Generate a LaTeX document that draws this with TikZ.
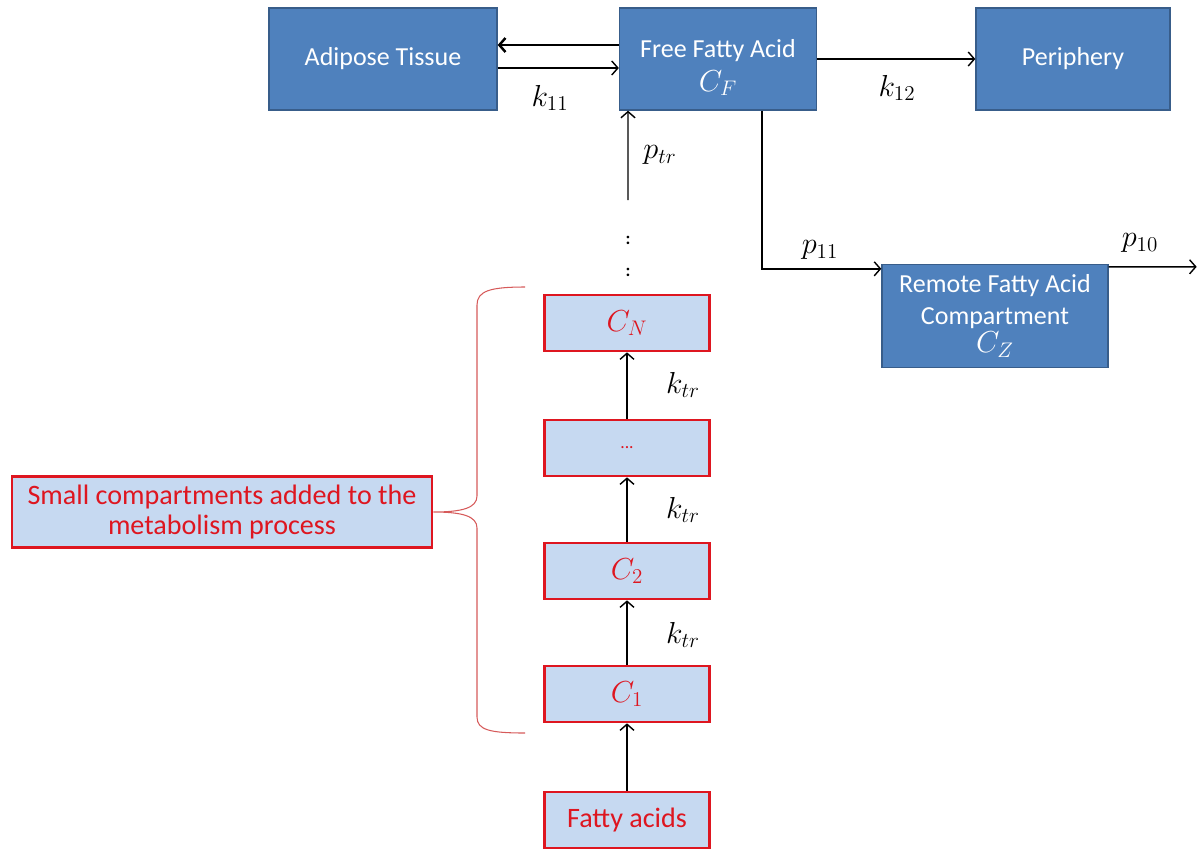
\documentclass[tikz,border=0pt]{standalone}
\usepackage{amsmath}
\usepackage{fontspec}
\setmainfont{Carlito}
\usetikzlibrary{calc,arrows.meta}
\definecolor{boxblue}{RGB}{79,129,189}
\definecolor{boxedge}{RGB}{56,93,138}
\definecolor{paleblue}{RGB}{198,217,241}
\definecolor{boxred}{RGB}{222,22,32}
\definecolor{bracered}{RGB}{214,90,90}
\newcommand{\symsize}{\fontsize{18}{20}\selectfont}
\tikzset{%
  >={Straight Barb[length=3.5pt,width=8pt]},
  bluebox/.style={draw=boxedge,fill=boxblue,text=white,line width=0.8pt,minimum height=2.04cm,align=center,font=\fontsize{14.8}{22}\selectfont},
  redbox/.style={draw=boxred,fill=paleblue,text=boxred,line width=1.5pt,minimum width=3.3cm,minimum height=1.12cm,align=center,font=\fontsize{16}{18}\selectfont},
  flow/.style={->,line width=0.8pt},
  rate/.style={font=\symsize}
}

\begin{document}
\begin{tikzpicture}[x=0.02cm,y=-0.02cm]
      \useasboundingbox (0,0) rectangle (1198,850);
      % top row
      \node[bluebox,minimum width=4.56cm](adi) at (383,59) {Adipose Tissue};
      \node[bluebox,minimum width=3.94cm,
        label={[yshift=-5pt,text=white,align=center,font=\fontsize{14.8}{20}\selectfont]center:Free Fatty Acid\\[-1pt] {\symsize$C_F$}}](ffa) at (718,59) {};
      \node[bluebox,minimum width=3.88cm](peri) at (1073,59) {Periphery};
      \node[bluebox,minimum width=4.52cm,minimum height=2.06cm,font=\fontsize{14.8}{17}\selectfont](rem) at (995,316) {Remote Fatty Acid\\[1pt] Compartment\\[-1pt] {\symsize$C_Z$}};
      \draw[flow,line width=1.4pt] ([yshift=0.28cm]ffa.west) -- ([yshift=0.28cm]adi.east);
      \draw[flow] ([yshift=-0.18cm]adi.east) -- ([yshift=-0.18cm]ffa.west);
      \draw[flow] (ffa.east) -- (peri.west);
      \draw[flow] ([xshift=0.88cm]ffa.south) |- ([yshift=-0.1cm]rem.north west);
      \coordinate (out) at ($(rem.north east)+(88,3)$);
      \draw[flow] ([yshift=-0.06cm]rem.north east) -- (out);
      \node[rate] (k11) at (550,98) {$k_{11}$};
      \node[rate] (k12) at (897,88) {$k_{12}$};
      \node[rate] (p11) at (820,250) {$p_{11}$};
      \node[rate] (p10) at (1140,243) {$p_{10}$};
      % transit chain
      \node[redbox](cn) at (627,323) {\symsize$C_N$};
      \node[redbox](cdots) at (627,448) {\normalsize ...};
      \node[redbox](c2) at (627,571) {\symsize$C_2$};
      \node[redbox](c1) at (627,694) {\symsize$C_1$};
      \node[redbox](fa) at (627,820) {Fatty acids};
      \draw[flow] (fa) -- (c1);
      \draw[flow] (c1) -- (c2);
      \draw[flow] (c2) -- (cdots);
      \draw[flow] (cdots) -- (cn);
      \node[rate] (ktr1) at (683,635) {$k_{tr}$};
      \node[rate] (ktr2) at (683,510) {$k_{tr}$};
      \node[rate] (ktr3) at (683,385) {$k_{tr}$};
      \node[font=\bfseries] (dotsa) at (628,240) {:};
      \node[font=\bfseries] (dotsb) at (628,272) {:};
      \coordinate (ptr) at (628,200);
      \draw[flow] (ptr) -- ([xshift=-1.8cm]ffa.south);
      \node[rate] (ptrlab) at (660,155) {$p_{tr}$};
      % brace and note
      \node[redbox,minimum width=8.4cm,minimum height=1.42cm,font=\fontsize{16}{17.5}\selectfont](note) at (222,512) {Small compartments added to the\\ metabolism process};
      \draw[bracered,line width=0.6pt] (525,287) .. controls (490,287) and (477,291) .. (477,305) -- (477,496)
        .. controls (477,508) and (462,512) .. (note.east)
        .. controls (462,512) and (477,516) .. (477,528) -- (477,717)
        .. controls (477,730) and (490,733) .. (525,733);
\end{tikzpicture}
\end{document}
